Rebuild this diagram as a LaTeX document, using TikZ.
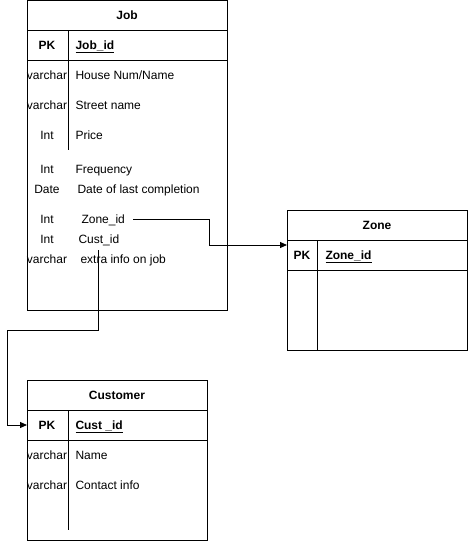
\documentclass[tikz,border=0pt]{standalone}
\usepackage{fontspec}
\setmainfont{Liberation Sans}
\usetikzlibrary{arrows.meta}
\begin{document}
\begin{tikzpicture}[x=1pt,y=-1pt,line width=1pt,
  tbl/.style={draw,inner sep=0pt,anchor=north west},
  txt/.style={inner sep=0pt,text height=12pt,text depth=2.8pt,font=\fontsize{12pt}{14pt}\selectfont},
  lbl/.style={txt,anchor=west},
  typ/.style={txt,anchor=center},
  ttl/.style={txt,font=\fontsize{12pt}{14pt}\selectfont\bfseries},
  conn/.style={line width=1pt},
  tip/.style={-{Triangle[length=7pt,width=6pt]}}]
\useasboundingbox (0,0) rectangle (468,541);
% Job table
\node[tbl,minimum width=200pt,minimum height=310pt] (job) at (27,0) {};
\draw ([yshift=-30pt]job.north west) -- ([yshift=-30pt]job.north east);
\draw ([yshift=-60pt]job.north west) -- ([yshift=-60pt]job.north east);
\draw (68,30) -- (68,150);
\node[ttl] (jobt) at (127,15) {Job};
\node[ttl] (jobpk) at (47,45) {PK};
\node[ttl,anchor=west] (jobid) at (75,45) {\underline{Job\_id}};
\node[typ] (t1) at (47,75) {varchar};
\node[lbl] (a1) at (75,75) {House Num/Name};
\node[typ] (t2) at (47,105) {varchar};
\node[lbl] (a2) at (75,105) {Street name};
\node[typ] (t3) at (47,135) {Int};
\node[lbl] (a3) at (75,135) {Price};
\node[typ] (t4) at (47,169) {Int};
\node[lbl] (a4) at (75,169) {Frequency};
\node[typ] (t5) at (47,189) {Date};
\node[lbl] (a5) at (77,189) {Date of last completion};
\node[typ] (t6) at (47,219) {Int};
\node[lbl] (a6) at (81,219) {Zone\_id};
\node[typ] (t7) at (47,239) {Int};
\node[lbl] (a7) at (78,239) {Cust\_id};
\node[typ] (t8) at (47,259) {varchar};
\node[lbl] (a8) at (80,259) {extra info on job};
% Zone table
\node[tbl,minimum width=180pt,minimum height=140pt] (zone) at (287,210) {};
\draw ([yshift=-30pt]zone.north west) -- ([yshift=-30pt]zone.north east);
\draw ([yshift=-60pt]zone.north west) -- ([yshift=-60pt]zone.north east);
\draw (317,240) -- (317,350);
\node[ttl] (zonet) at (377,225) {Zone};
\node[ttl] (zonepk) at (302,255) {PK};
\node[ttl,anchor=west] (zoneid) at (325,255) {\underline{Zone\_id}};
% Customer table
\node[tbl,minimum width=180pt,minimum height=160pt] (cust) at (27,380) {};
\draw ([yshift=-30pt]cust.north west) -- ([yshift=-30pt]cust.north east);
\draw ([yshift=-60pt]cust.north west) -- ([yshift=-60pt]cust.north east);
\draw (68,410) -- (68,530);
\node[ttl] (custt) at (117,395) {Customer};
\node[ttl] (custpk) at (47,425) {PK};
\node[ttl,anchor=west] (custid) at (75,425) {\underline{Cust \_id}};
\node[typ] (c1) at (47,455) {varchar};
\node[lbl] (b1) at (75,455) {Name};
\node[typ] (c2) at (47,485) {varchar};
\node[lbl] (b2) at (75,485) {Contact info};
% connectors
\coordinate (zs) at (133,219);
\coordinate (zb) at (209,219);
\coordinate (cs) at (98,250);
\coordinate (cb) at (98,330);
\coordinate (cl) at (7,425);
\draw[conn,tip] (zs) -- (zb) |- ([yshift=-35pt]zone.north west);
\draw[conn,tip] (cs) -- (cb) -| (cl) -- ([yshift=-45pt]cust.north west);
\end{tikzpicture}
\end{document}
